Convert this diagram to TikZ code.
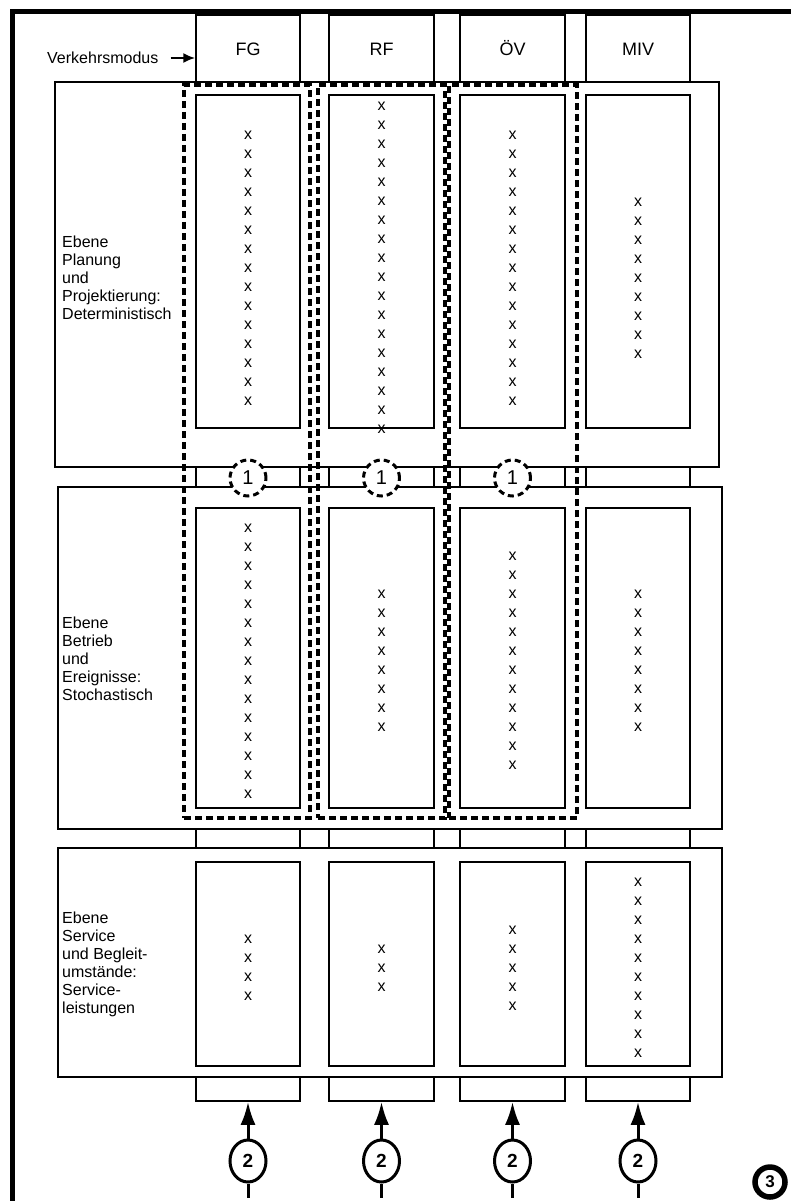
\documentclass[tikz,border=0pt]{standalone}
\usepackage{fontspec}
\setmainfont{Liberation Sans}
\usetikzlibrary{shapes.geometric,arrows.meta}
\begin{document}
\begin{tikzpicture}[x=1pt,y=-1pt,
  box/.style={draw, line width=1.5pt, inner sep=0pt, fill=white},
  hdr/.style={anchor=base, inner sep=0pt, font=\fontsize{18}{18}\selectfont},
  lbl/.style={anchor=west, align=left, inner sep=0pt, font=\fontsize{16}{18}\selectfont},
  xm/.style={inner sep=0pt, font=\fontsize{16}{16}\selectfont},
  dbox/.style={draw, line width=3.4pt, dash pattern=on 7pt off 4pt, inner sep=0pt},
  cone/.style={circle, draw, fill=white, line width=3pt, dash pattern=on 6pt off 4pt, minimum size=36pt, inner sep=0pt, font=\fontsize{20}{20}\selectfont},
  etwo/.style={ellipse, draw, fill=white, line width=3pt, minimum width=36pt, minimum height=42pt, inner sep=0pt, font=\bfseries\fontsize{19}{19}\selectfont},
  arr/.style={line width=3pt, -{Latex[length=23pt,width=15pt]}},
]
\useasboundingbox (0,0) rectangle (790,1201);
% outer frame
\draw[line width=5.5pt] (12.5,1230) -- (12.5,11.5) -- (810,11.5);
% columns (full height)
\foreach \n/\cx/\w in {FG/248/104, RF/381.5/105, OV/512.5/105, MIV/638/104}
  \node[box, minimum width=\w pt, minimum height=1086pt] (col\n) at (\cx,558) {};
% headers
\node[hdr] (hFG) at (248,55.5) {FG};
\node[hdr] (hRF) at (381.5,55.5) {RF};
\node[hdr] (hOV) at (512.5,55.5) {ÖV};
\node[hdr] (hMIV) at (638,55.5) {MIV};
% Verkehrsmodus
\node[anchor=west, inner sep=0pt, font=\fontsize{16}{16}\selectfont] (vm) at (47,58) {Verkehrsmodus};
\draw[line width=2pt, -{Latex[length=12pt,width=10pt]}] ([xshift=12pt]vm.east) -- (vm.east -| colFG.west);
% layer boxes
\node[box, minimum width=664pt, minimum height=385pt] (L1) at (387,274.5) {};
\node[box, minimum width=664pt, minimum height=342pt] (L2) at (390,658) {};
\node[box, minimum width=664pt, minimum height=229pt] (L3) at (390,962.5) {};
% layer labels
\node[lbl] (t1) at (62,278) {Ebene\\Planung\\und\\Projektierung:\\Deterministisch};
\node[lbl] (t2) at (62,659) {Ebene\\Betrieb\\und\\Ereignisse:\\Stochastisch};
\node[lbl] (t3) at (62,964) {Ebene\\Service\\und Begleit-\\umstände:\\Service-\\leistungen};
% inner boxes
\foreach \n/\cx/\w in {FG/248/104, RF/381.5/105, OV/512.5/105, MIV/638/104}{
  \node[box, minimum width=\w pt, minimum height=333pt] (i1\n) at (\cx,261.5) {};
  \node[box, minimum width=\w pt, minimum height=300pt] (i2\n) at (\cx,658) {};
  \node[box, minimum width=\w pt, minimum height=204pt] (i3\n) at (\cx,964) {};
}
% x marks
\foreach \cx/\ys/\num [count=\k] in {248/135/15, 381.5/106.5/18, 512.5/135/15, 638/202.3/9,
    248/528/15, 381.5/594/8, 512.5/556/12, 638/594/8,
    248/939/4, 381.5/949/3, 512.5/930/5, 638/882/10}{
  \foreach \i in {1,...,\num}
    \node[xm] (x\k-\i) at (\cx,{\ys+19*(\i-1)}) {x};
}
% dashed groups
\node[dbox, minimum width=126pt, minimum height=733pt] (dFG) at (247,451.5) {};
\node[dbox, minimum width=127pt, minimum height=733pt] (dRF) at (381.5,451.5) {};
\node[dbox, minimum width=128pt, minimum height=733pt] (dOV) at (513,451.5) {};
% markers 1
\node[cone] (oFG) at (248,478) {1};
\node[cone] (oRF) at (381.5,478) {1};
\node[cone] (oOV) at (512.5,478) {1};
% markers 2 with arrows
\foreach \n/\cx in {FG/248, RF/381.5, OV/512.5, MIV/638}{
  \node[etwo] (e\n) at (\cx,1161) {2};
  \coordinate (t\n) at (\cx,1198);
  \draw[arr] (e\n.north) -- (col\n.south);
  \draw[line width=3pt] (e\n.south) -- (t\n);
}
% marker 3
\node[circle, draw, line width=5.5pt, minimum size=30pt, inner sep=0pt, font=\bfseries\fontsize{17}{17}\selectfont] (c3) at (770,1182) {3};
\end{tikzpicture}
\end{document}
